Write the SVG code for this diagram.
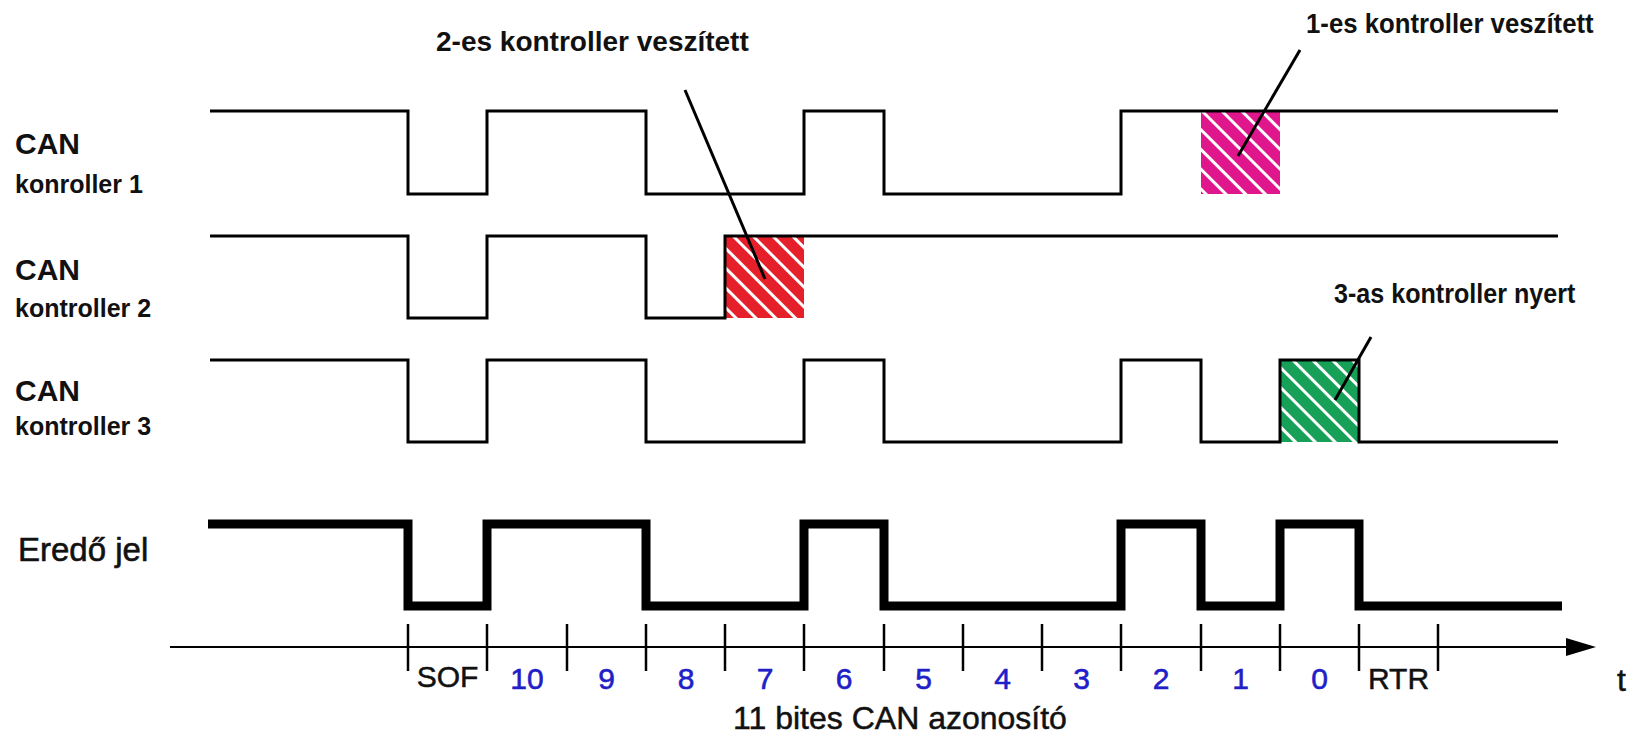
<svg xmlns="http://www.w3.org/2000/svg" width="1632" height="736" viewBox="0 0 1632 736">
<style>
.lbl{font-family:"Liberation Sans",Arial,sans-serif;fill:#111}
.can{font-size:30px;font-weight:bold}
.ctl{font-size:25px;font-weight:bold}
.note{font-size:28px;font-weight:bold}
.ax{font-size:30px;stroke:#111;stroke-width:0.5}
.num{font-family:"Liberation Sans",Arial,sans-serif;font-size:30px;fill:#1f1fc8;stroke:#1f1fc8;stroke-width:0.6;text-anchor:middle}
.wave{fill:none;stroke:#000;stroke-width:3;stroke-linejoin:miter}
.thick{fill:none;stroke:#000;stroke-width:9;stroke-linejoin:miter}
.tick{stroke:#000;stroke-width:2.5}
.lead{stroke:#000;stroke-width:3}
</style>
<defs>
<pattern id="hMag" patternUnits="userSpaceOnUse" width="14" height="14" patternTransform="rotate(-45)">
<rect width="14" height="14" fill="#e0168c"/><rect width="3" height="14" fill="#fff"/>
</pattern>
<pattern id="hRed" patternUnits="userSpaceOnUse" width="14" height="14" patternTransform="rotate(-45)">
<rect width="14" height="14" fill="#e5202a"/><rect width="3" height="14" fill="#fff"/>
</pattern>
<pattern id="hGrn" patternUnits="userSpaceOnUse" width="14" height="14" patternTransform="rotate(-45)">
<rect width="14" height="14" fill="#17a058"/><rect width="3" height="14" fill="#fff"/>
</pattern>
</defs>
<rect width="1632" height="736" fill="#fff"/>

<g id="ctrl1">
<text class="lbl can" x="15" y="154">CAN</text>
<text class="lbl ctl" x="15" y="193">konroller 1</text>
<rect x="1201" y="111" width="79" height="83" fill="url(#hMag)"/>
<path class="wave" d="M210,111 H408 V194 H487 V111 H646 V194 H804 V111 H884 V194 H1121 V111 H1558"/>
</g>

<g id="ctrl2">
<text class="lbl can" x="15" y="280">CAN</text>
<text class="lbl ctl" x="15" y="317">kontroller 2</text>
<rect x="725" y="236" width="79" height="82" fill="url(#hRed)"/>
<path class="wave" d="M210,236 H408 V318 H487 V236 H646 V318 H725 V236 H1558"/>
</g>

<g id="ctrl3">
<text class="lbl can" x="15" y="401">CAN</text>
<text class="lbl ctl" x="15" y="435">kontroller 3</text>
<rect x="1280" y="360" width="79" height="82" fill="url(#hGrn)"/>
<path class="wave" d="M210,360 H408 V442 H487 V360 H646 V442 H804 V360 H884 V442 H1121 V360 H1201 V442 H1280 V360 H1359 V442 H1558"/>
</g>

<g id="result">
<text class="lbl" x="18" y="561" style="font-size:33px;stroke:#111;stroke-width:0.6">Eredő jel</text>
<path class="thick" d="M208,524 H408 V606 H487 V524 H646 V606 H804 V524 H884 V606 H1121 V524 H1201 V606 H1280 V524 H1359 V606 H1562"/>
</g>

<g id="notes">
<text class="lbl note" x="436" y="51">2-es kontroller veszített</text>
<text class="lbl note" transform="translate(1306,33) scale(0.92,1)" x="0" y="0">1-es kontroller veszített</text>
<text class="lbl note" transform="translate(1334,303) scale(0.93,1)" x="0" y="0" style="font-size:27px">3-as kontroller nyert</text>
</g>

<g id="connectors">
<line class="lead" x1="685" y1="90" x2="765" y2="279"/>
<line class="lead" x1="1300" y1="50" x2="1238" y2="156"/>
<line class="lead" x1="1371" y1="337" x2="1335" y2="400"/>
</g>

<g id="axis">
<line x1="170" y1="647" x2="1570" y2="647" stroke="#000" stroke-width="2"/>
<polygon points="1566,638 1596,647 1566,656" fill="#000"/>
<g class="tick">
<line x1="408" y1="624" x2="408" y2="671"/>
<line x1="487" y1="624" x2="487" y2="671"/>
<line x1="567" y1="624" x2="567" y2="671"/>
<line x1="646" y1="624" x2="646" y2="671"/>
<line x1="725" y1="624" x2="725" y2="671"/>
<line x1="804" y1="624" x2="804" y2="671"/>
<line x1="884" y1="624" x2="884" y2="671"/>
<line x1="963" y1="624" x2="963" y2="671"/>
<line x1="1042" y1="624" x2="1042" y2="671"/>
<line x1="1121" y1="624" x2="1121" y2="671"/>
<line x1="1201" y1="624" x2="1201" y2="671"/>
<line x1="1280" y1="624" x2="1280" y2="671"/>
<line x1="1359" y1="624" x2="1359" y2="671"/>
<line x1="1438" y1="624" x2="1438" y2="671"/>
</g>
<text class="lbl ax" x="447.5" y="687" text-anchor="middle">SOF</text>
<text class="num" x="527" y="689">10</text>
<text class="num" x="606.5" y="689">9</text>
<text class="num" x="686" y="689">8</text>
<text class="num" x="765" y="689">7</text>
<text class="num" x="844" y="689">6</text>
<text class="num" x="923.5" y="689">5</text>
<text class="num" x="1002.5" y="689">4</text>
<text class="num" x="1081.5" y="689">3</text>
<text class="num" x="1161" y="689">2</text>
<text class="num" x="1240.5" y="689">1</text>
<text class="num" x="1319.5" y="689">0</text>
<text class="lbl ax" x="1398.5" y="689" text-anchor="middle">RTR</text>
<text class="lbl" x="1617" y="691" style="font-size:32px;stroke:#111;stroke-width:0.5">t</text>
<text class="lbl" x="900" y="729" text-anchor="middle" style="font-size:32px;stroke:#111;stroke-width:0.5">11 bites CAN azonosító</text>
</g>
</svg>
